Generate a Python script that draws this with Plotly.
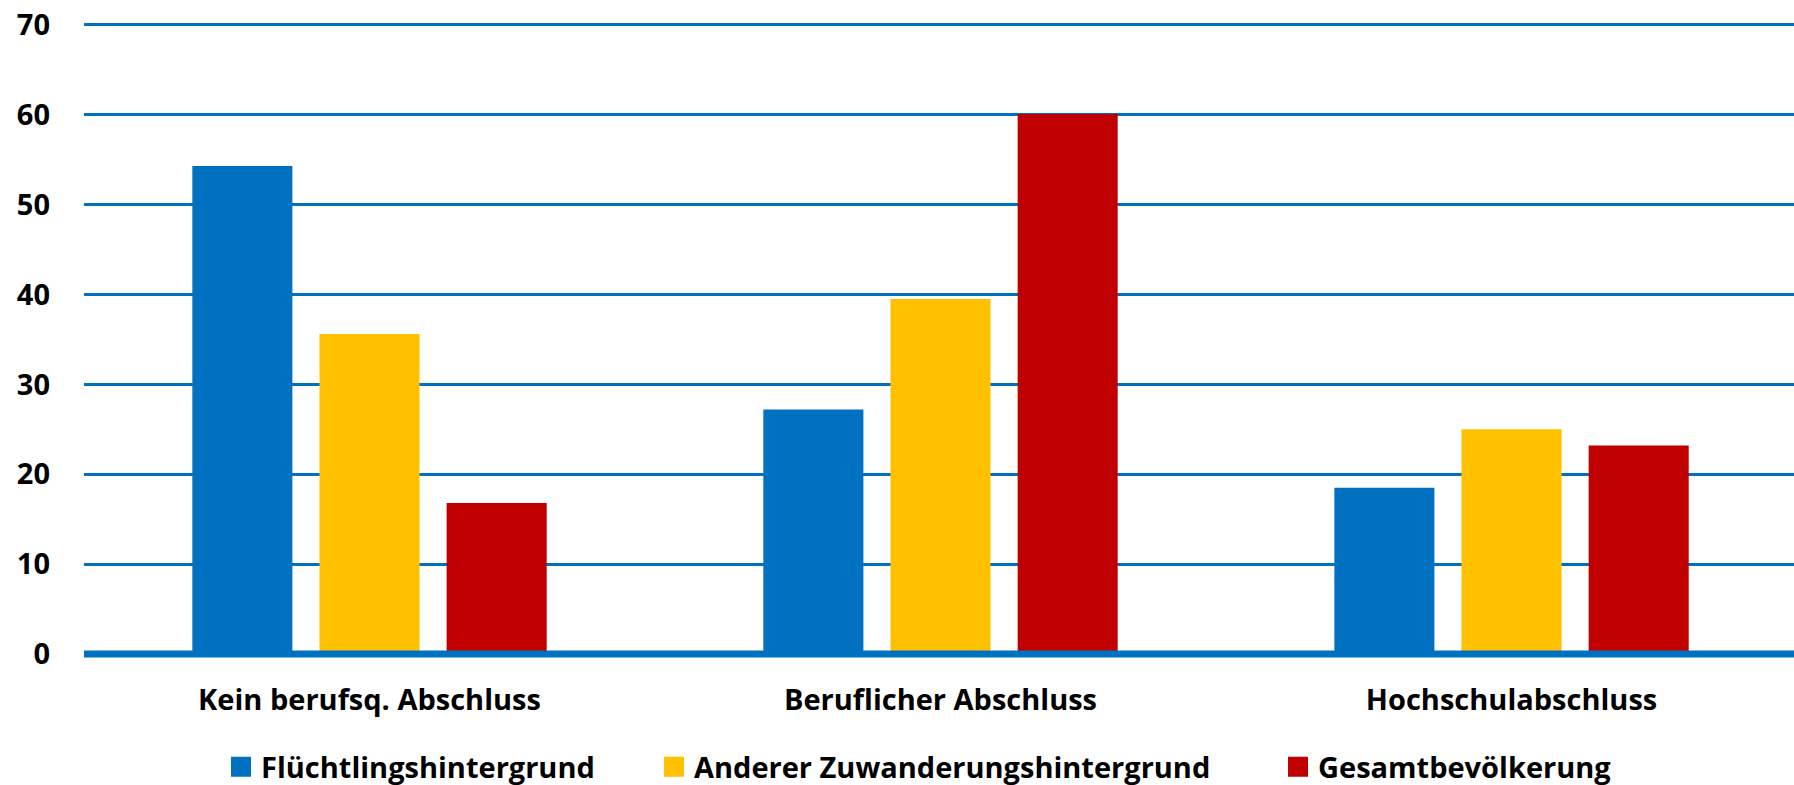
import plotly.graph_objects as go

categories = ["Kein berufsq. Abschluss", "Beruflicher Abschluss", "Hochschulabschluss"]
series_names = ["Flüchtlingshintergrund", "Anderer Zuwanderungshintergrund", "Gesamtbevölkerung"]
fluechtling = [54.3, 27.2, 18.5]
zuwanderung = [35.6, 39.5, 25.0]
gesamt = [16.8, 60.1, 23.2]
colors = ["#0070C0", "#FFC000", "#C00000"]
y_ticks = [0, 10, 20, 30, 40, 50, 60, 70]

FONT = "Open Sans"
FS = 29
fig = go.Figure()
legend_ids = ["legend", "legend2", "legend3"]
for name, vals, col, lg in zip(series_names, [fluechtling, zuwanderung, gesamt], colors, legend_ids):
    fig.add_trace(go.Bar(x=categories, y=vals, name=name, marker=dict(color=col, line=dict(width=0)),
                         showlegend=False))
    fig.add_trace(go.Scatter(x=[None], y=[None], mode="markers", name=name, legend=lg,
                             marker=dict(symbol="square", size=16, color=col, line=dict(width=4, color=col))))

W, H = 1794, 785
legend_lefts = [221, 654, 1278]
leg_common = dict(orientation="h", xref="container", yref="container", yanchor="middle",
                  y=1 - 767 / H, xanchor="left", bgcolor="rgba(0,0,0,0)",
                  font=dict(family=FONT, size=FS, color="black", weight="bold"),
                  itemsizing="trace")

fig.update_layout(
    width=W, height=H,
    margin=dict(l=84, r=0, t=16, b=131, autoexpand=False),
    plot_bgcolor="white", paper_bgcolor="white",
    barmode="group", bargap=0.332, bargroupgap=0.213,
    font=dict(family=FONT, size=FS, color="black", weight="bold"),
    legend=dict(x=legend_lefts[0] / W, **leg_common),
    legend2=dict(x=legend_lefts[1] / W, **leg_common),
    legend3=dict(x=legend_lefts[2] / W, **leg_common),
    yaxis=dict(range=[0, 71], tickvals=y_ticks, showgrid=True, gridcolor="#0070C0", gridwidth=2.5,
               zeroline=False, showline=False, ticks="", ticklabelstandoff=33,
               tickfont=dict(family=FONT, size=FS, color="black", weight="bold")),
    xaxis=dict(range=[-0.5, 2.4947], showgrid=False, zeroline=False, showline=False, ticks="",
               ticklabelstandoff=26,
               tickfont=dict(family=FONT, size=FS, color="black", weight="bold")),
    shapes=[dict(type="line", xref="paper", yref="paper", x0=0, x1=1, y0=0, y1=0,
                 line=dict(color="#0070C0", width=7), layer="above")],
)
fig.write_html("out.html", config={"displayModeBar": False},
               post_script="document.body.style.margin='0';document.body.style.overflow='hidden';")
